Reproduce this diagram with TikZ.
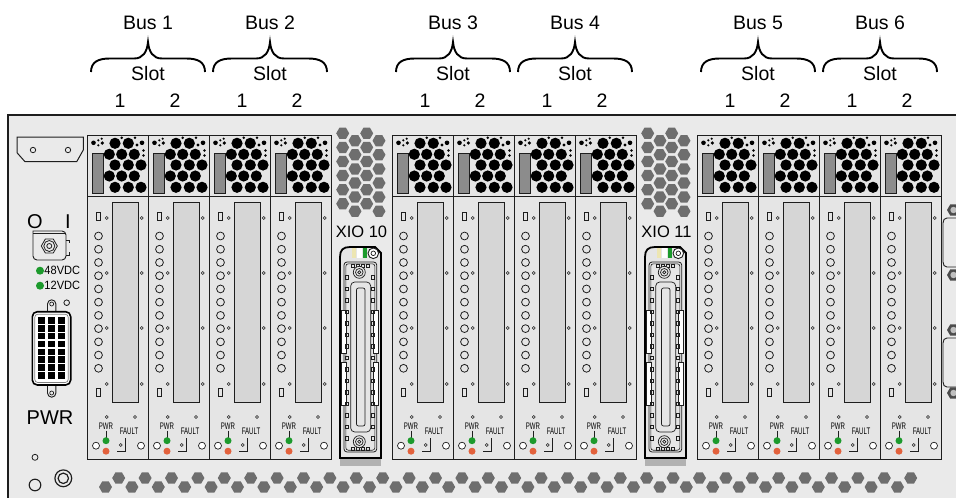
\documentclass[tikz,border=0pt]{standalone}
\usepackage{fontspec}
\setmainfont{Liberation Sans}
\definecolor{chassis}{HTML}{EAEAEA}
\definecolor{cardfill}{HTML}{E5E5E5}
\definecolor{panelfill}{HTML}{D6D6D6}
\definecolor{hexgray}{HTML}{6E6E6E}
\definecolor{ventgray}{HTML}{8C8C8C}
\definecolor{ledgreen}{HTML}{1C9A2C}
\definecolor{ledorange}{HTML}{E2613C}
\definecolor{ink}{HTML}{1E1E1E}
\definecolor{stripey}{HTML}{EDE6B2}
\newcommand\hexat[3]{\fill[hexgray] (#1,#2) +(0:#3) -- +(60:#3) -- +(120:#3) -- +(180:#3) -- +(240:#3) -- +(300:#3) -- cycle;}
\newcommand\pcicard[1]{%
\begin{scope}[shift={(#1,0)}]
\draw[ink, fill=cardfill, line width=1] (0,135) rectangle (61,196);
\draw[ink, fill=cardfill, line width=1] (0,196) rectangle (61,459);
\draw[ink, fill=ventgray, line width=0.8] (5,153) rectangle (16,193);
\foreach \a/\b in {28/143.3, 41.3/143.3, 22.3/154.3, 34.7/154.3, 47.3/154.3, 28/165, 41.3/165, 54/165, 22.3/176, 34.7/176, 47.3/176, 28/187.3, 41.3/187.3, 54/187.3}
  \fill[black] (\a,\b) circle (5.6);
\foreach \a/\b/\r in {6.5/142.8/2.3, 11.3/140.3/1.2, 11.3/145.3/1.2, 15.3/143/1.8, 14.7/138.7/1.2, 34.7/137.8/1.4, 48/137.8/1.4, 50/145/1.7, 55/142.8/2.3, 56.5/150.5/1.3, 56.5/155.5/1.3}
  \fill[black] (\a,\b) circle (\r);
\draw[ink, fill=panelfill, line width=0.9] (25,202) rectangle (51,402);
\draw[ink, line width=0.8] (9.5,212) rectangle (13.8,220.5);
\draw[ink, line width=0.8] (9.5,388) rectangle (13.8,396.5);
\foreach \b in {218,273,328,384} {\draw[ink,line width=0.6] (19.7,\b) circle (1.5); \draw[ink,line width=0.6] (54.7,\b) circle (1.5);}
\foreach \i in {0,...,10} \draw[ink,line width=0.8] (11.5,236+13.23*\i) circle (3.9);
\foreach \a in {19.7,48} \draw[ink,line width=0.6] (\a,417) circle (1.5);
\node[smalltxt] (pwr-#1) at (19,426.5) {PWR};
\draw[ink,line width=0.6] (19,430.5) -- (19,437.5);
\fill[ledgreen] (19,440.7) circle (3.5);
\fill[ledorange] (19,451.2) circle (3.5);
\draw[ink, fill=white, line width=0.7] (9,445.7) circle (3.5);
\draw[ink, line width=0.6] (33.7,445) circle (1.5);
\draw[ink, line width=0.7] (38.7,438) -- (38.7,451.7) -- (30.3,451.7);
\node[smalltxt] (fault-#1) at (42,431.5) {FAULT};
\draw[ink, fill=white, line width=0.7] (54,445.7) circle (3.5);
\end{scope}}
\newcommand\xio[2]{%
\begin{scope}[shift={(#1,0)}]
\foreach \k in {0,...,5} {\hexat{11.7}{133.3+14.1*\k}{6.5}\hexat{35.7}{133.3+14.1*\k}{6.5}\hexat{24}{140.7+14.1*\k}{6.5}\hexat{48}{140.7+14.1*\k}{6.5}}
\node[xiotxt] (xio-#2) at (30.5,232) {XIO #2};
\fill[black!30] (9,458) rectangle (50,465.5);
\draw[black, line width=1.8, fill=cardfill] (9,458) -- (9,257) .. controls (9,250) and (12,247) .. (19,247) -- (44,247) -- (50,253) -- (50,458) -- cycle;
\fill[stripey] (20.7,248) rectangle (25,257.5);
\fill[white] (26,248) rectangle (30.5,257.5);
\fill[ledgreen] (31.7,248) rectangle (35.7,257.5);
\draw[ink, fill=white, line width=0.9] (42.3,253.3) circle (5.3);
\draw[ink, line width=0.7] (42.3,253.3) circle (2.3);
\draw[ink, line width=0.8, rounded corners=3] (13,262) rectangle (45.7,452);
\draw[ink, line width=0.6, rounded corners=2.5] (14.8,263.8) rectangle (43.9,450.2);
\foreach \b in {310,362} {\draw[ink, fill=white, line width=0.6] (10.7,\b) rectangle (15.7,\b+43); \draw[ink, fill=white, line width=0.6] (42.3,\b) rectangle (47.3,\b+43);}
\foreach \k in {0,...,14} {\draw[ink,line width=0.6] (14.2,275.5+11.5*\k) rectangle +(3,3.5); \draw[ink,line width=0.6] (40.2,275.5+11.5*\k) rectangle +(3,3.5);}
\foreach \a in {20,25,30,35} {\draw[ink,line width=0.6] (\a,264.5) rectangle +(3,2.8); \draw[ink,line width=0.6] (\a,447) rectangle +(3,2.8);}
\foreach \b in {272.3,441.7} {\draw[ink, fill=cardfill, line width=0.7] (28.3,\b) circle (6); \draw[ink, line width=0.7] (28.3,\b) circle (3.8); \draw[ink, line width=0.7] (28.3,\b) circle (1.6);}
\draw[ink, line width=0.7, rounded corners=4] (19.7,282) rectangle (39.7,432);
\draw[ink, line width=0.7, rounded corners=2] (25.5,288) rectangle (34,426);
\end{scope}}
\begin{document}
\begin{tikzpicture}[x=1pt,y=-1pt,
  bustxt/.style={font=\fontsize{19.5}{20}\selectfont, inner sep=0pt},
  xiotxt/.style={font=\fontsize{16.5}{17}\selectfont, inner sep=0pt},
  voltxt/.style={font=\fontsize{12}{13}\selectfont, inner sep=0pt, anchor=west, xscale=0.92},
  bigtxt/.style={font=\fontsize{20}{21}\selectfont, inner sep=0pt},
  smalltxt/.style={font=\fontsize{9.5}{10}\selectfont, inner sep=0pt, xscale=0.64}]
\useasboundingbox (0,0) rectangle (956,498);
\fill[white] (0,0) rectangle (956,498);
\fill[chassis] (8,115) rectangle (962,504);
\draw[ink, line width=2] (8,504) -- (8,115) -- (962,115);
% top labels
\foreach \c/\n in {148/1,270/2,453/3,575/4,758/5,880/6} {
  \node[bustxt] (bus\n) at (\c,22.5) {Bus \n};
  \draw[black, line width=1.9] (\c-57,72) .. controls (\c-57,62) and (\c-50,58.5) .. (\c-38,58.5) -- (\c-14,58.5) .. controls (\c-5,58.5) and (\c-1,52) .. (\c,42) .. controls (\c+1,52) and (\c+5,58.5) .. (\c+14,58.5) -- (\c+38,58.5) .. controls (\c+50,58.5) and (\c+57,62) .. (\c+57,72);
  \node[bustxt] (slot\n) at (\c,74) {Slot};
  \node[bustxt] (sa\n) at (\c-28,101) {1};
  \node[bustxt] (sb\n) at (\c+27,101) {2};
}
% cards
\foreach \cx in {87,148,209,270,392,453,514,575,697,758,819,880} {\pcicard{\cx}}
\xio{331}{10}
\xio{636}{11}
% bottom hex row
\foreach \i in {0,...,61} {
  \pgfmathsetmacro\hx{105.5+13.2*\i}
  \pgfmathsetmacro\hy{ifthenelse(mod(\i,2)==0,487,478)}
  \hexat{\hx}{\hy}{6.5}
}
% left bracket
\draw[ink, fill=chassis, line width=1] (17,137) -- (83.3,137) -- (83.3,150) -- (76.7,161.7) -- (25,161.7) -- (17,152.7) -- cycle;
\draw[ink, line width=0.8] (33,150) circle (2.7);
\draw[ink, line width=0.8] (68,150) circle (2.7);
% power switch
\node[bigtxt] (swO) at (35,222) {O};
\node[bigtxt] (swI) at (68,222) {I};
\draw[ink, fill=chassis, line width=0.9, rounded corners=4] (33,231) -- (33,260) -- (66,260) -- (66,231) [sharp corners] -- cycle;
\draw[ink, line width=0.7] (33,233.5) -- (66,233.5);
\draw[ink, line width=0.8] (49.3,246) +(0:8) -- +(60:8) -- +(120:8) -- +(180:8) -- +(240:8) -- +(300:8) -- cycle;
\draw[ink, line width=0.8] (49.3,246) circle (5.5);
\draw[ink, line width=0.8] (49.3,246) circle (2.5);
\draw[ink, line width=0.7] (66,240) -- (69.5,240) -- (69.5,243);
\draw[ink, line width=0.7] (66,255) -- (69.5,255) -- (69.5,252);
% LEDs
\fill[ledgreen] (40,270.7) circle (4);
\fill[ledgreen] (40,285.7) circle (4);
\node[voltxt] (v48) at (44.3,270.7) {48VDC};
\node[voltxt] (v12) at (44.3,285.7) {12VDC};
% DVI power connector
\draw[ink, line width=0.8] (66.7,302.7) circle (2.8);
\draw[ink, fill=chassis, line width=0.9] (47.5,312) -- (47.5,304) arc(180:360:4.2) -- (55.9,312);
\draw[ink, line width=0.7] (51.7,304) circle (2);
\draw[ink, fill=chassis, line width=0.9] (47.5,385) -- (47.5,393) arc(180:0:4.2) -- (55.9,385);
\draw[ink, line width=0.7] (51.7,393) circle (2);
\draw[black, fill=white, line width=1.6, rounded corners=5] (32.3,311.7) rectangle (70.7,385);
\draw[black!50, line width=0.7, rounded corners=3] (34.8,314.2) rectangle (68.2,382.5);
\foreach \r in {0,...,7} \foreach \a in {37.7,47.7,57.7} \fill[black] (\a,317.3+7.83*\r) rectangle +(6.8,6.5);
\node[bigtxt] (pwrlbl) at (50,418) {PWR};
% bottom-left round parts
\draw[ink, line width=0.8] (35,457.3) circle (3);
\draw[ink, line width=1.1] (35,485) circle (5.8);
\draw[ink, line width=1.2] (63.3,478.3) circle (8.4);
\draw[ink, line width=1.2] (63.3,478.3) circle (5.2);
% right-hand D-sub connectors
\foreach \t/\bt in {218/267,338/387} {
  \draw[ink, fill=chassis, line width=0.9] (960,\t) -- (947,\t) .. controls (944.5,\t) and (943,\t+2) .. (943,\t+5) -- (943,\bt-5) .. controls (943,\bt-2) and (944.5,\bt) .. (947,\bt) -- (960,\bt);
}
\foreach \e in {210,275,330,393} {
  \fill[black!70] (953.5,\e) +(0:6.5) -- +(60:6.5) -- +(120:6.5) -- +(180:6.5) -- +(240:6.5) -- +(300:6.5) -- cycle;
  \fill[black!25] (953.5,\e) circle (3.2);
}
\end{tikzpicture}
\end{document}
